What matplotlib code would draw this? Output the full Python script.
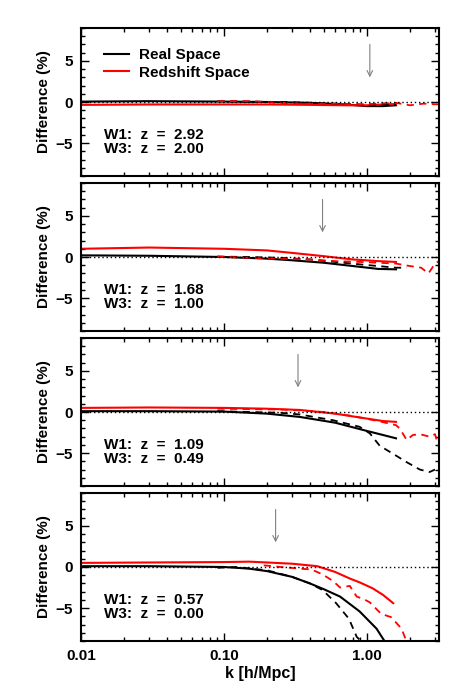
import matplotlib
matplotlib.use("Agg")
import matplotlib.pyplot as plt
from matplotlib.lines import Line2D
from matplotlib.ticker import LogLocator, MultipleLocator, FixedLocator, FixedFormatter, NullFormatter

plt.rcParams['font.family'] = ['Liberation Sans', 'DejaVu Sans']
plt.rcParams['font.weight'] = 'bold'

# ---------------- data ----------------
labels_w1 = ["2.92", "1.68", "1.09", "0.57"]
labels_w3 = ["2.00", "1.00", "0.49", "0.00"]
arrow_k = [1.05, 0.49, 0.33, 0.23]

# panel 1
k_real_1 = [0.01, 0.03, 0.1, 0.2, 0.4, 0.7, 1.0, 1.3, 1.6]
real_sol_1 = [0.05, 0.1, 0.05, 0.0, -0.1, -0.3, -0.5, -0.5, -0.4]
red_sol_1 = [-0.35, -0.3, -0.3, -0.3, -0.35, -0.4, -0.4, -0.3, -0.25]
k_real_d_1 = [0.09, 0.15, 0.25, 0.4, 0.6, 0.9, 1.2, 1.6]
real_dash_1 = [0.1, 0.05, 0.0, -0.1, -0.2, -0.3, -0.4, -0.3]
k_red_d_1 = [0.09, 0.15, 0.25, 0.4, 0.6, 0.9, 1.2, 1.6, 2.0, 2.5, 3.2]
red_dash_1 = [0.1, 0.1, -0.1, -0.2, -0.2, -0.3, -0.2, -0.1, -0.4, -0.2, -0.3]

# panel 2
k_real_2 = [0.01, 0.03, 0.1, 0.2, 0.3, 0.5, 0.8, 1.2, 1.6]
real_sol_2 = [0.2, 0.15, 0.0, -0.2, -0.4, -0.7, -1.1, -1.45, -1.5]
red_sol_2 = [1.0, 1.15, 1.0, 0.8, 0.5, 0.1, -0.3, -0.5, -0.6]
k_real_d_2 = [0.09, 0.15, 0.25, 0.4, 0.6, 0.9, 1.2, 1.6, 1.9]
real_dash_2 = [0.05, 0.0, -0.1, -0.3, -0.6, -0.9, -1.1, -1.3, -1.3]
k_red_d_2 = [0.09, 0.15, 0.25, 0.4, 0.6, 0.9, 1.2, 1.6, 2.0, 2.4, 2.7, 3.0, 3.2]
red_dash_2 = [0.05, -0.1, -0.2, -0.3, -0.5, -0.6, -0.7, -0.8, -1.1, -1.3, -2.0, -0.8, -0.5]

# panel 3
k_real_3 = [0.01, 0.03, 0.1, 0.2, 0.34, 0.6, 1.0, 1.3, 1.6]
real_sol_3 = [0.1, 0.1, 0.05, -0.2, -0.6, -1.3, -2.3, -2.8, -3.2]
red_sol_3 = [0.5, 0.55, 0.5, 0.4, 0.25, -0.2, -0.8, -1.1, -1.2]
k_real_d_3 = [0.09, 0.15, 0.25, 0.34, 0.58, 0.89, 1.05, 1.23, 1.6, 1.9, 2.35, 2.75, 3.0]
real_dash_3 = [0.1, 0.0, -0.1, -0.3, -1.0, -1.8, -2.6, -4.1, -5.3, -6.1, -7.0, -7.3, -7.0]
k_red_d_3 = [0.09, 0.15, 0.25, 0.34, 0.5, 0.8, 1.2, 1.6, 1.7, 1.9, 2.1, 2.35, 2.75, 3.0, 3.2]
red_dash_3 = [0.4, 0.35, 0.3, 0.2, 0.0, -0.5, -1.1, -1.6, -2.0, -3.4, -2.8, -2.7, -3.0, -2.7, -4.3]

# panel 4
k_real_4 = [0.01, 0.03, 0.1, 0.15, 0.2, 0.3, 0.4, 0.5, 0.65, 0.89, 1.17, 1.34, 1.4]
real_sol_4 = [0.1, 0.1, 0.0, -0.2, -0.5, -1.2, -2.0, -2.7, -3.6, -5.4, -7.5, -9.1, -9.6]
k_red_4 = [0.01, 0.03, 0.1, 0.15, 0.2, 0.3, 0.45, 0.6, 0.76, 0.9, 1.1, 1.3, 1.53]
red_sol_4 = [0.5, 0.55, 0.6, 0.65, 0.55, 0.4, 0.1, -0.6, -1.4, -1.9, -2.6, -3.4, -4.4]
k_real_d_4 = [0.09, 0.12, 0.2, 0.3, 0.4, 0.49, 0.61, 0.75, 0.85, 0.95]
real_dash_4 = [-0.1, 0.0, -0.4, -1.2, -2.0, -2.8, -4.4, -6.3, -8.5, -9.3]
k_red_d_4 = [0.19, 0.25, 0.34, 0.41, 0.49, 0.58, 0.65, 0.76, 0.85, 0.95, 1.05, 1.26, 1.48, 1.75, 1.9, 2.0]
red_dash_4 = [0.2, 0.0, -0.2, -0.3, -0.9, -1.7, -2.5, -2.3, -3.6, -3.9, -4.3, -5.7, -6.1, -7.5, -9.1, -9.5]

panels = [
    (k_real_1, real_sol_1, k_real_1, red_sol_1, k_real_d_1, real_dash_1, k_red_d_1, red_dash_1),
    (k_real_2, real_sol_2, k_real_2, red_sol_2, k_real_d_2, real_dash_2, k_red_d_2, red_dash_2),
    (k_real_3, real_sol_3, k_real_3, red_sol_3, k_real_d_3, real_dash_3, k_red_d_3, red_dash_3),
    (k_real_4, real_sol_4, k_red_4, red_sol_4, k_real_d_4, real_dash_4, k_red_d_4, red_dash_4),
]

xticks = [0.01, 0.1, 1.0]
xticklabels = ["0.01", "0.10", "1.00"]
yticks = [-5, 0, 5]
xlim = (0.01, 3.2)
ylim = (-9, 9)

# ---------------- figure ----------------
W, H = 463, 695
fig = plt.figure(figsize=(W / 100, H / 100), dpi=100)
left, right = 81 / W, 439 / W
tops = [28, 183, 338, 493]
ph = 148
fs = 11

for i, (ks, rs, kr, rr, kd, rd, kdd, rdd) in enumerate(panels):
    ax = fig.add_axes([left, 1 - (tops[i] + ph) / H, right - left, ph / H])
    ax.set_xscale('log')
    ax.set_xlim(*xlim)
    ax.set_ylim(*ylim)
    ax.plot(ks, rs, color='black', lw=1.5)
    ax.plot(kr, rr, color='red', lw=1.5)
    ax.plot(kd, rd, color='black', lw=1.3, ls=(0, (4, 3)))
    ax.plot(kdd, rdd, color='red', lw=1.3, ls=(0, (4, 3)))
    ax.axhline(0, color='black', lw=1.0, ls=(0, (1, 2)))
    ax.annotate('', xy=(arrow_k[i], 3), xytext=(arrow_k[i], 7),
                arrowprops=dict(arrowstyle='->', color='gray', lw=0.8,
                                mutation_scale=10, shrinkA=0, shrinkB=0))
    ax.text(0.065, 0.23, f"W1:  z  =  {labels_w1[i]}\nW3:  z  =  {labels_w3[i]}",
            transform=ax.transAxes, fontsize=fs, fontweight='bold',
            va='center', ha='left', linespacing=1.05)
    ax.set_ylabel('Difference (%)', fontsize=fs, fontweight='bold', labelpad=3)
    ax.yaxis.set_major_locator(FixedLocator(yticks))
    ax.yaxis.set_minor_locator(MultipleLocator(1))
    ax.xaxis.set_major_locator(FixedLocator(xticks))
    ax.xaxis.set_minor_locator(LogLocator(base=10, subs=range(2, 10)))
    ax.xaxis.set_minor_formatter(NullFormatter())
    if i == 3:
        ax.xaxis.set_major_formatter(FixedFormatter(xticklabels))
        ax.set_xlabel('k [h/Mpc]', fontsize=fs + 0.5, fontweight='bold', labelpad=2)
    else:
        ax.xaxis.set_major_formatter(NullFormatter())
    ax.tick_params(which='both', direction='in', top=True, right=True,
                   labelsize=fs, width=1.0)
    ax.tick_params(which='major', length=6, pad=6)
    ax.tick_params(which='minor', length=3)
    for sp in ax.spines.values():
        sp.set_linewidth(1.5)
    if i == 0:
        handles = [Line2D([], [], color='black', lw=1.5),
                   Line2D([], [], color='red', lw=1.5)]
        ax.legend(handles, ['Real Space', 'Redshift Space'], loc='upper left',
                  bbox_to_anchor=(0.065, 0.865), frameon=False,
                  prop={'size': fs, 'weight': 'bold'},
                  handlelength=1.6, handletextpad=0.7, borderaxespad=0,
                  borderpad=0, labelspacing=0.25)

fig.savefig('out.png', dpi=100)
